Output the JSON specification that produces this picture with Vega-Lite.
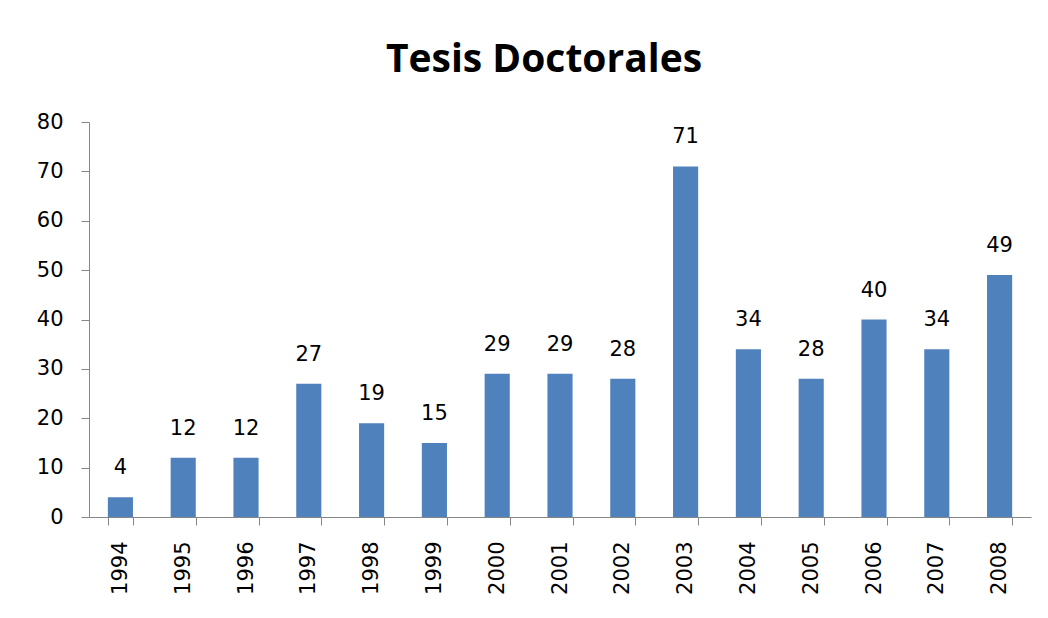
{
  "$schema": "https://vega.github.io/schema/vega-lite/v6.json",
  "width": 942,
  "height": 395,
  "padding": {"left": 89, "top": 122, "right": 17, "bottom": 101},
  "autosize": {"type": "none"},
  "background": "white",
  "title": {
    "text": "Tesis Doctorales",
    "font": "Open Sans",
    "fontSize": 39,
    "fontWeight": "bold",
    "color": "black",
    "anchor": "middle",
    "dx": -16,
    "offset": 31
  },
  "config": {"view": {"stroke": null}},
  "data": {
    "values": [
      {"year": "1994", "n": 4},
      {"year": "1995", "n": 12},
      {"year": "1996", "n": 12},
      {"year": "1997", "n": 27},
      {"year": "1998", "n": 19},
      {"year": "1999", "n": 15},
      {"year": "2000", "n": 29},
      {"year": "2001", "n": 29},
      {"year": "2002", "n": 28},
      {"year": "2003", "n": 71},
      {"year": "2004", "n": 34},
      {"year": "2005", "n": 28},
      {"year": "2006", "n": 40},
      {"year": "2007", "n": 34},
      {"year": "2008", "n": 49}
    ]
  },
  "encoding": {
    "x": {
      "field": "year",
      "type": "nominal",
      "scale": {"paddingInner": 0.6, "paddingOuter": 0.3},
      "axis": {
        "title": null,
        "labelAngle": -90,
        "labelFont": "DejaVu Sans",
        "labelFontSize": 21,
        "labelColor": "black",
        "labelPadding": 16,
        "domainColor": "#868686",
        "tickColor": "#868686",
        "tickBand": "extent",
        "tickSize": 8
      }
    },
    "y": {
      "field": "n",
      "type": "quantitative",
      "scale": {"domain": [0, 80]},
      "axis": {
        "title": null,
        "values": [0, 10, 20, 30, 40, 50, 60, 70, 80],
        "grid": false,
        "labelFont": "DejaVu Sans",
        "labelFontSize": 21,
        "labelColor": "black",
        "labelPadding": 18,
        "domainColor": "#868686",
        "tickColor": "#868686",
        "tickSize": 8
      }
    }
  },
  "layer": [
    {"mark": {"type": "bar", "color": "#4F81BD"}},
    {
      "mark": {"type": "text", "dy": -29, "font": "DejaVu Sans", "fontSize": 21, "color": "black"},
      "encoding": {"text": {"field": "n", "type": "quantitative"}}
    }
  ]
}
